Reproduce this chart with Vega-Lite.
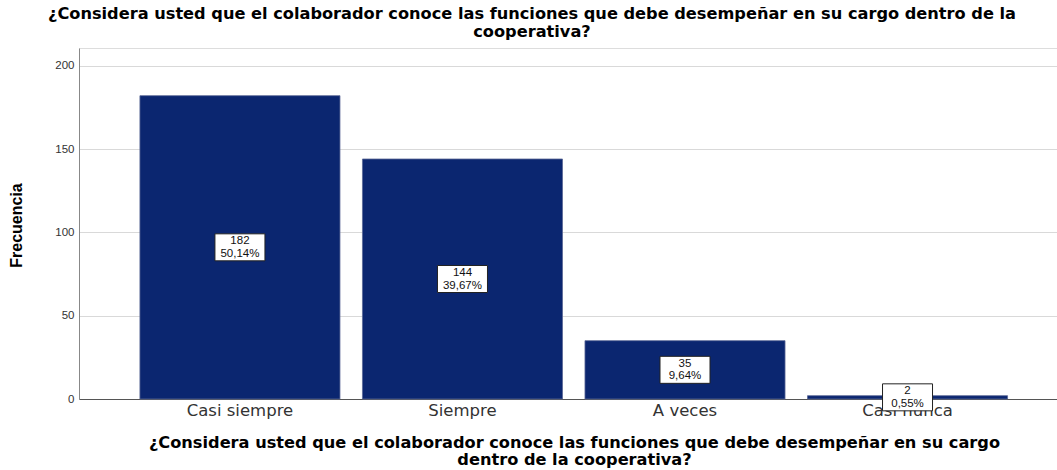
{
  "$schema": "https://vega.github.io/schema/vega-lite/v6.json",
  "autosize": "none",
  "width": 978,
  "height": 351,
  "padding": {"left": 79, "top": 48, "right": 0, "bottom": 71},
  "background": "white",
  "data": {
    "values": [
      {"respuesta": "Casi siempre", "frecuencia": 182, "etiqueta": "182\n50,14%"},
      {"respuesta": "Siempre", "frecuencia": 144, "etiqueta": "144\n39,67%"},
      {"respuesta": "A veces", "frecuencia": 35, "etiqueta": "35\n9,64%"},
      {"respuesta": "Casi nunca", "frecuencia": 2, "etiqueta": "2\n0,55%"}
    ]
  },
  "transform": [{"calculate": "datum.frecuencia / 2", "as": "mitad"}],
  "title": {
    "text": ["¿Considera usted que el colaborador conoce las funciones que debe desempeñar en su cargo dentro de la", "cooperativa?"],
    "font": "DejaVu Sans",
    "fontSize": 16.2,
    "fontWeight": "bold",
    "color": "#000000",
    "anchor": "middle",
    "frame": "group",
    "offset": 8,
    "lineHeight": 17.5,
    "dx": -36
  },
  "encoding": {
    "x": {
      "field": "respuesta",
      "type": "nominal",
      "sort": null,
      "scale": {"paddingInner": 0.101, "paddingOuter": 0.248, "align": 0.552},
      "axis": {
        "title": ["¿Considera usted que el colaborador conoce las funciones que debe desempeñar en su cargo", "dentro de la cooperativa?"],
        "titleFont": "DejaVu Sans",
        "titleFontSize": 16.2,
        "titleFontWeight": "bold",
        "titleColor": "#000000",
        "titleLineHeight": 17,
        "titleX": 495,
        "titleY": 48,
        "titleBaseline": "alphabetic",
        "labelAngle": 0,
        "labelFont": "DejaVu Sans",
        "labelFontSize": 16.5,
        "labelColor": "#333333",
        "labelPadding": 3,
        "ticks": false,
        "domainColor": "#555555",
        "domainWidth": 1,
        "grid": false
      }
    }
  },
  "layer": [
    {
      "mark": {"type": "bar", "color": "#0b2670", "stroke": "#5a6796", "strokeWidth": 0.8},
      "encoding": {
        "y": {
          "field": "frecuencia",
          "type": "quantitative",
          "scale": {"domain": [0, 210.6], "nice": false},
          "axis": {
            "values": [0, 50, 100, 150, 200],
            "title": "Frecuencia",
            "titleFont": "Liberation Sans",
            "titleFontSize": 16,
            "titleFontWeight": "bold",
            "titleColor": "#000000",
            "titleX": -55,
            "titleY": 177,
            "labelFont": "Liberation Sans",
            "labelFontSize": 11.5,
            "labelColor": "#333333",
            "labelPadding": 5,
            "ticks": false,
            "domainColor": "#888888",
            "grid": true,
            "gridColor": "#d9d9d9",
            "gridWidth": 1
          }
        }
      }
    },
    {
      "mark": {"type": "point", "shape": "M-1,-0.54H1V0.54H-1Z", "size": 2500, "filled": true, "fill": "white", "stroke": "#222222", "strokeWidth": 1, "opacity": 1},
      "encoding": {
        "y": {"field": "mitad", "type": "quantitative"}
      }
    },
    {
      "mark": {"type": "text", "font": "Liberation Sans", "fontSize": 11.5, "color": "#111111", "lineBreak": "\n", "lineHeight": 12.5, "baseline": "middle", "dy": -6},
      "encoding": {
        "y": {"field": "mitad", "type": "quantitative"},
        "text": {"field": "etiqueta", "type": "nominal"}
      }
    }
  ]
}
